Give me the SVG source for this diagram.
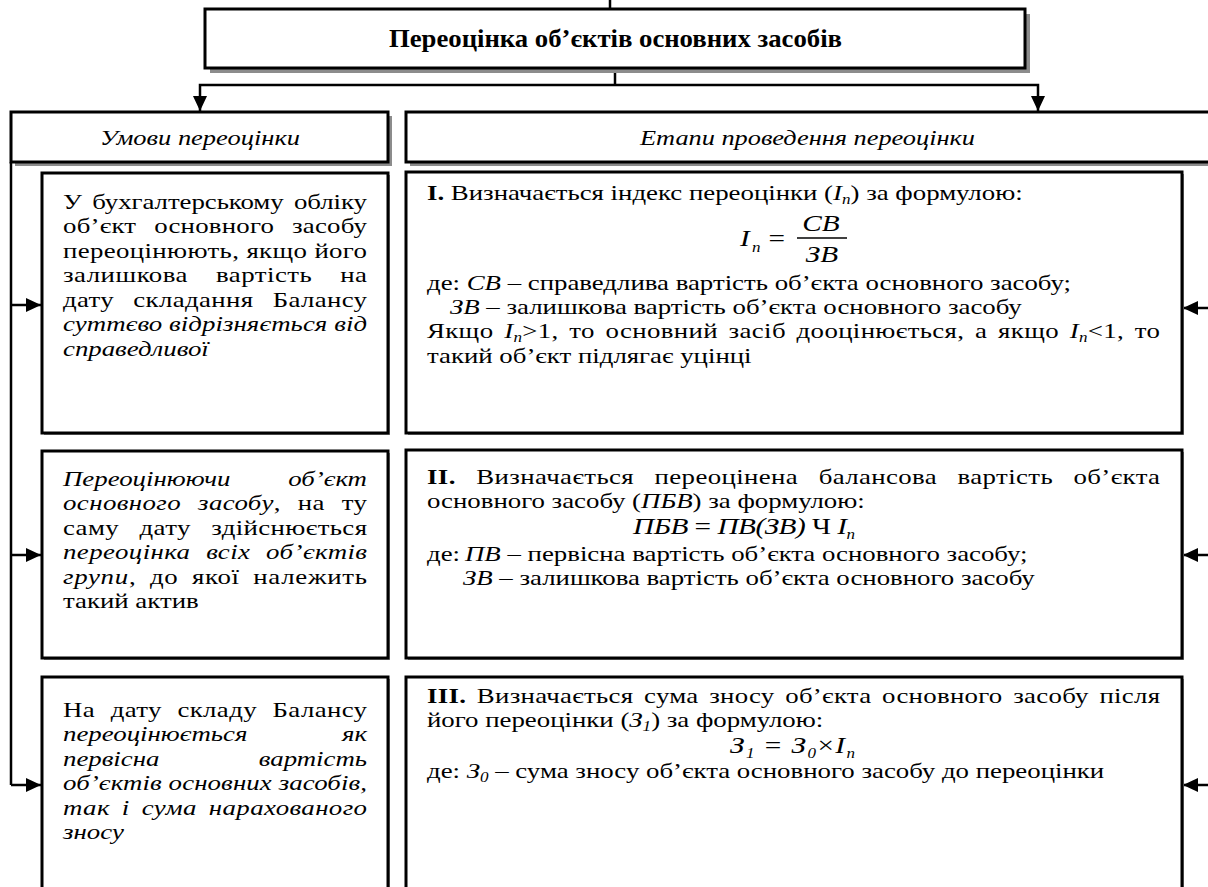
<svg xmlns="http://www.w3.org/2000/svg" width="1208" height="887" viewBox="0 0 1208 887">
<defs>
<style>
.t{font-family:"Liberation Serif","Times New Roman",serif;font-size:22px;fill:#000}
.i{font-style:italic}
.b{font-weight:bold}
.ttl{font-size:26px}
.f{font-family:"Liberation Serif","Times New Roman",serif;font-size:24px;font-style:italic;fill:#000}
.r{font-style:normal}
.s{font-size:14px}
.box{fill:#fff;stroke:#000;stroke-width:3}
.sh{fill:#8c8c8c}
.ln{stroke:#000;stroke-width:2.5;fill:none}
</style>
<marker id="ah" markerUnits="userSpaceOnUse" markerWidth="15" markerHeight="14" refX="15" refY="7" orient="auto">
<path d="M0,0 L15,7 L0,14 Z" fill="#000"/>
</marker>
</defs>
<rect width="1208" height="887" fill="#fff"/>

<g id="connectors">
<line class="ln" x1="610" y1="0" x2="610" y2="9"/>
<line class="ln" x1="615" y1="68" x2="615" y2="85"/>
<polyline class="ln" points="615,85 200,85 200,111" marker-end="url(#ah)"/>
<polyline class="ln" points="615,85 1038,85 1038,111" marker-end="url(#ah)"/>
<line class="ln" x1="11" y1="162" x2="11" y2="785"/>
<line class="ln" x1="11" y1="305" x2="41" y2="305" marker-end="url(#ah)"/>
<line class="ln" x1="11" y1="555" x2="41" y2="555" marker-end="url(#ah)"/>
<line class="ln" x1="11" y1="785" x2="41" y2="785" marker-end="url(#ah)"/>
<line class="ln" x1="1210" y1="308" x2="1183" y2="308" marker-end="url(#ah)"/>
<line class="ln" x1="1210" y1="555" x2="1183" y2="555" marker-end="url(#ah)"/>
<line class="ln" x1="1210" y1="785" x2="1183" y2="785" marker-end="url(#ah)"/>
</g>

<g id="title">
<rect class="sh" x="210" y="14" width="820" height="59"/>
<rect class="box" x="205" y="9" width="820" height="59" stroke-width="2.5"/>
<text class="t b ttl" x="389" y="47" textLength="453" lengthAdjust="spacingAndGlyphs">Переоцінка об’єктів основних засобів</text>
</g>

<g id="hdr-left">
<rect class="sh" x="15" y="116" width="377" height="50"/>
<rect class="box" x="11" y="112" width="377" height="50" stroke-width="2.5"/>
<text class="t i" x="100" y="145" textLength="200" lengthAdjust="spacingAndGlyphs">Умови переоцінки</text>
</g>

<g id="hdr-right">
<rect class="sh" x="410" y="116" width="810" height="50"/>
<rect class="box" x="406" y="112" width="810" height="50" stroke-width="2.5"/>
<text class="t i" x="640" y="145" textLength="335" lengthAdjust="spacingAndGlyphs">Етапи проведення переоцінки</text>
</g>

<g id="cond1">
<rect class="sh" x="44" y="175" width="346" height="260"/>
<rect class="box" x="42" y="173" width="346" height="260"/>
<g transform="scale(1.22,1)">
<text class="t" x="51.64" y="209" textLength="249.18" lengthAdjust="spacing" word-spacing="3">У бухгалтерському обліку</text>
<text class="t" x="51.64" y="233.5" textLength="249.18" lengthAdjust="spacing" word-spacing="9">об’єкт основного засобу</text>
<text class="t" x="51.64" y="258" textLength="249.18" lengthAdjust="spacing">переоцінюють, якщо його</text>
<text class="t" x="51.64" y="282.5" textLength="249.18" lengthAdjust="spacing" word-spacing="17">залишкова вартість на</text>
<text class="t" x="51.64" y="307" textLength="249.18" lengthAdjust="spacing" word-spacing="10">дату складання Балансу</text>
<text class="t i" x="51.64" y="331.5" textLength="249.18" lengthAdjust="spacing">суттєво відрізняється від</text>
<text class="t i" x="51.64" y="356">справедливої</text>
</g>
</g>

<g id="cond2">
<rect class="sh" x="44" y="453" width="346" height="207"/>
<rect class="box" x="42" y="451" width="346" height="207"/>
<g transform="scale(1.22,1)">
<text class="t i" x="51.64" y="486">Переоцінюючи</text>
<text class="t i" x="300.82" y="486" text-anchor="end">об’єкт</text>
<text class="t" x="51.64" y="510.5" textLength="249.18" lengthAdjust="spacing" word-spacing="8"><tspan class="i">основного засобу</tspan>, на ту</text>
<text class="t" x="51.64" y="535" textLength="249.18" lengthAdjust="spacing" word-spacing="11">саму дату здійснюється</text>
<text class="t i" x="51.64" y="559.5" textLength="249.18" lengthAdjust="spacing" word-spacing="7">переоцінка всіх об’єктів</text>
<text class="t" x="51.64" y="584" textLength="249.18" lengthAdjust="spacing" word-spacing="5"><tspan class="i">групи</tspan>, до якої належить</text>
<text class="t" x="51.64" y="608.5">такий актив</text>
</g>
</g>

<g id="cond3">
<rect class="sh" x="44" y="679" width="346" height="230"/>
<rect class="box" x="42" y="677" width="346" height="230"/>
<g transform="scale(1.22,1)">
<text class="t" x="51.64" y="717" textLength="249.18" lengthAdjust="spacing" word-spacing="7">На дату складу Балансу</text>
<text class="t i" x="51.64" y="741.5">переоцінюється</text>
<text class="t i" x="300.82" y="741.5" text-anchor="end">як</text>
<text class="t i" x="51.64" y="766">первісна</text>
<text class="t i" x="300.82" y="766" text-anchor="end">вартість</text>
<text class="t i" x="51.64" y="790.5" textLength="249.18" lengthAdjust="spacing">об’єктів основних засобів,</text>
<text class="t i" x="51.64" y="815" textLength="249.18" lengthAdjust="spacing" word-spacing="4">так і сума нарахованого</text>
<text class="t i" x="51.64" y="839.5">зносу</text>
</g>
</g>

<g id="stage1">
<rect class="sh" x="408" y="174" width="776" height="261"/>
<rect class="box" x="406" y="172" width="776" height="261"/>
<line x1="797" y1="238" x2="847" y2="238" stroke="#000" stroke-width="1.5"/>
<g transform="scale(1.22,1)">
<text class="t" x="350" y="200"><tspan class="b">I.</tspan> Визначається індекс переоцінки (<tspan class="i">I</tspan><tspan class="i s" dy="4">n</tspan><tspan dy="-4">) за формулою:</tspan></text>
<text class="f" x="606.6" y="246">I</text>
<text class="f s" x="616.5" y="252">n</text>
<text class="f r" x="630" y="246">=</text>
<text class="f" x="673" y="231" text-anchor="middle">CB</text>
<text class="f" x="673.8" y="262" text-anchor="middle">ЗВ</text>
<text class="t" x="350" y="290">де: <tspan class="i">СВ</tspan> – справедлива вартість об’єкта основного засобу;</text>
<text class="t" x="368.85" y="314"><tspan class="i">ЗВ</tspan> – залишкова вартість об’єкта основного засобу</text>
<text class="t" x="350" y="338.5" textLength="600.82" lengthAdjust="spacing" word-spacing="3">Якщо <tspan class="i">I</tspan><tspan class="i s" dy="4">n</tspan><tspan dy="-4">&gt;1, то основний засіб дооцінюється, а якщо </tspan><tspan class="i">I</tspan><tspan class="i s" dy="4">n</tspan><tspan dy="-4">&lt;1, то</tspan></text>
<text class="t" x="350" y="363">такий об’єкт підлягає уцінці</text>
</g>
</g>

<g id="stage2">
<rect class="sh" x="408" y="452" width="776" height="208"/>
<rect class="box" x="406" y="450" width="776" height="208"/>
<g transform="scale(1.22,1)">
<text class="t" x="350" y="484" textLength="600.82" lengthAdjust="spacing" word-spacing="11"><tspan class="b">II.</tspan> Визначається переоцінена балансова вартість об’єкта</text>
<text class="t" x="350" y="508.5">основного засобу (<tspan class="i">ПБВ</tspan>) за формулою:</text>
<text class="f" x="518.9" y="534" textLength="182" lengthAdjust="spacing">ПБВ<tspan class="r"> = </tspan>ПВ(ЗВ)<tspan class="r"> Ч </tspan>I<tspan class="s" dy="5">n</tspan></text>
<text class="t" x="350" y="561">де:</text>
<text class="t" x="381.15" y="561"><tspan class="i">ПВ</tspan> – первісна вартість об’єкта основного засобу;</text>
<text class="t" x="379.5" y="585"><tspan class="i">ЗВ</tspan> – залишкова вартість об’єкта основного засобу</text>
</g>
</g>

<g id="stage3">
<rect class="sh" x="408" y="679" width="776" height="230"/>
<rect class="box" x="406" y="677" width="776" height="230"/>
<g transform="scale(1.22,1)">
<text class="t" x="350" y="703" textLength="600.82" lengthAdjust="spacing" word-spacing="3"><tspan class="b">III.</tspan> Визначається сума зносу об’єкта основного засобу після</text>
<text class="t" x="350" y="727.5">його переоцінки (<tspan class="i">З</tspan><tspan class="i s" dy="4">1</tspan><tspan dy="-4">) за формулою:</tspan></text>
<text class="f" x="598.4" y="753" textLength="102.5" lengthAdjust="spacing">З<tspan class="s" dy="5">1</tspan><tspan class="r" dy="-5"> = </tspan>З<tspan class="s" dy="5">0</tspan><tspan class="r" dy="-5">×</tspan>I<tspan class="s" dy="5">n</tspan></text>
<text class="t" x="350" y="778">де: <tspan class="i">З</tspan><tspan class="i s" dy="4">0</tspan><tspan dy="-4"> – сума зносу об’єкта основного засобу до переоцінки</tspan></text>
</g>
</g>
</svg>
